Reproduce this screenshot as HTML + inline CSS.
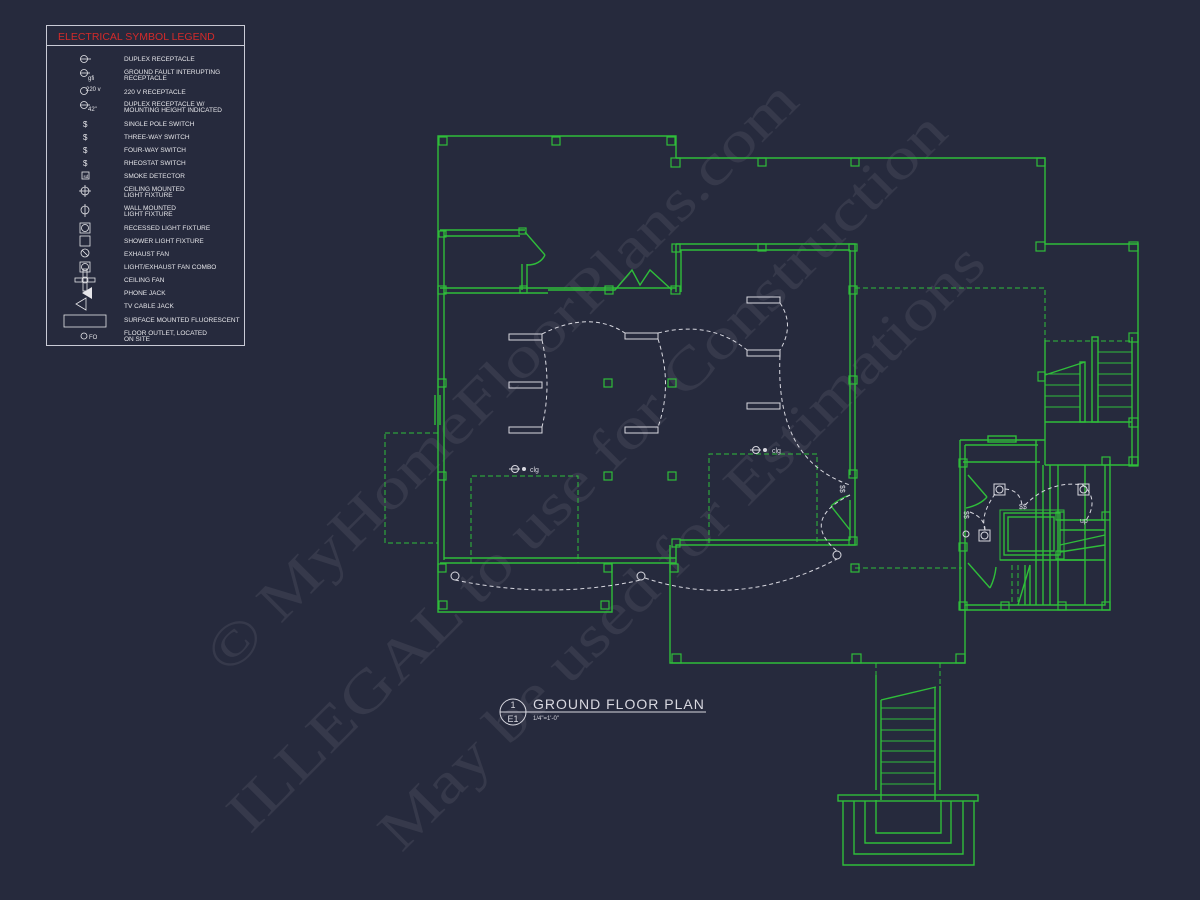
<!DOCTYPE html>
<html><head><meta charset="utf-8"><style>
html,body{margin:0;padding:0;background:#262a3d;}
svg{display:block}
</style></head><body>
<svg width="1200" height="900" viewBox="0 0 1200 900" xmlns="http://www.w3.org/2000/svg">
<rect width="1200" height="900" fill="#262a3d"/>

<!-- watermark -->
<g fill="#ffffff" fill-opacity="0.075" font-family="Liberation Serif, serif" text-anchor="middle">
<text x="0" y="0" font-size="58" transform="translate(515,390) rotate(-45)" textLength="810" lengthAdjust="spacingAndGlyphs">© MyHomeFloorPlans.com</text>
<text x="0" y="0" font-size="58" transform="translate(600,485) rotate(-45)" textLength="990" lengthAdjust="spacingAndGlyphs">ILLEGAL to use for Construction</text>
<text x="0" y="0" font-size="58" transform="translate(695,560) rotate(-45)" textLength="830" lengthAdjust="spacingAndGlyphs">May be used for Estimations</text>
</g>

<!-- legend -->
<g font-family="Liberation Sans, sans-serif">
<rect x="46.5" y="25.5" width="198" height="320" fill="none" stroke="#c9cbd6" stroke-width="1"/>
<line x1="47" y1="45.5" x2="244" y2="45.5" stroke="#c9cbd6"/>
<text x="58" y="40" font-size="10.5" fill="#d42a2a">ELECTRICAL SYMBOL LEGEND</text>
<g font-size="6.5" fill="#e6e6ea">
<text x="124" y="61">DUPLEX RECEPTACLE</text>
<text x="124" y="74">GROUND FAULT INTERUPTING</text><text x="124" y="80">RECEPTACLE</text>
<text x="124" y="94">220 V RECEPTACLE</text>
<text x="124" y="106">DUPLEX RECEPTACLE W/</text><text x="124" y="112">MOUNTING HEIGHT INDICATED</text>
<text x="124" y="126">SINGLE POLE SWITCH</text>
<text x="124" y="139">THREE-WAY SWITCH</text>
<text x="124" y="152">FOUR-WAY SWITCH</text>
<text x="124" y="165">RHEOSTAT SWITCH</text>
<text x="124" y="178">SMOKE DETECTOR</text>
<text x="124" y="191">CEILING MOUNTED</text><text x="124" y="197">LIGHT FIXTURE</text>
<text x="124" y="210">WALL MOUNTED</text><text x="124" y="216">LIGHT FIXTURE</text>
<text x="124" y="230">RECESSED LIGHT FIXTURE</text>
<text x="124" y="243">SHOWER LIGHT FIXTURE</text>
<text x="124" y="256">EXHAUST FAN</text>
<text x="124" y="269">LIGHT/EXHAUST FAN COMBO</text>
<text x="124" y="282">CEILING FAN</text>
<text x="124" y="295">PHONE JACK</text>
<text x="124" y="308">TV CABLE JACK</text>
<text x="124" y="322">SURFACE MOUNTED FLUORESCENT</text>
<text x="124" y="335">FLOOR OUTLET, LOCATED</text><text x="124" y="341">ON SITE</text>
</g>
<g stroke="#e6e6ea" fill="none" stroke-width="0.8">
<circle cx="84" cy="59" r="3.5"/><line x1="80" y1="59" x2="91" y2="59"/>
<circle cx="84" cy="73" r="3.5"/><line x1="80" y1="73" x2="90" y2="73"/>
<circle cx="84" cy="91" r="3.5"/>
<circle cx="84" cy="105" r="3.5"/><line x1="80" y1="105" x2="90" y2="105"/>
<rect x="82" y="172" width="7" height="7"/>
<circle cx="85" cy="191" r="4"/><line x1="85" y1="185" x2="85" y2="197"/><line x1="79" y1="191" x2="91" y2="191"/>
<circle cx="85" cy="210" r="4"/><line x1="85" y1="204" x2="85" y2="217"/>
<rect x="80" y="223" width="10" height="10"/><circle cx="85" cy="228" r="3.5"/>
<rect x="80" y="236" width="10" height="10"/>
<circle cx="85" cy="253" r="4"/><line x1="82" y1="250" x2="88" y2="256"/>
<rect x="80" y="262" width="10" height="10"/><circle cx="85" cy="267" r="3.5"/>
<rect x="83" y="269" width="4" height="22"/><rect x="75" y="278" width="20" height="4"/><circle cx="85" cy="280" r="3"/>
<polygon points="86,298 86,310 76,304"/>
<rect x="64" y="315" width="42" height="12"/>
<circle cx="84" cy="336" r="3"/>
</g>
<polygon points="92,287 92,299 82,293" fill="#e6e6ea"/>
<g font-size="6" fill="#e6e6ea">
<text x="88" y="80">gfi</text><text x="86" y="91">220 v</text><text x="88" y="111">42"</text>
<text x="83" y="127" font-size="8">$</text><text x="83" y="140" font-size="8">$</text><text x="83" y="153" font-size="8">$</text><text x="83" y="166" font-size="8">$</text>
<text x="83.5" y="178" font-size="4.5">sd</text><text x="89" y="339">FO</text>
</g>
</g>

<!-- plan -->
<g stroke="#2fbd3a" fill="none" stroke-width="1.4">
<!-- top porch -->
<polyline points="676,158 676,136 438,136 438,612 612,612 612,563"/>
<polyline points="676,158 1045,158 1045,244 1138,244 1138,465 1045,465"/>
<!-- interior walls -->
<line x1="444" y1="230" x2="444" y2="560"/>
<polyline points="440,230 525,230"/><polyline points="444,236 520,236"/>
<line x1="440" y1="288" x2="676" y2="288"/><line x1="444" y1="293" x2="548" y2="293"/>
<line x1="522" y1="264" x2="522" y2="290"/><line x1="527" y1="264" x2="527" y2="290"/>
<line x1="525" y1="232" x2="545" y2="255"/><path d="M545,255 Q540,265 527,265"/>
<polyline points="548,290 615,290 632,270 640,285 650,270 672,290"/>
<polyline points="676,244 855,244 855,545 676,545 676,563 440,563"/>
<line x1="680" y1="250" x2="850" y2="250"/><line x1="850" y1="250" x2="850" y2="475"/>
<line x1="850" y1="500" x2="850" y2="540"/>
<line x1="676" y1="244" x2="676" y2="292"/><line x1="681" y1="250" x2="681" y2="292"/>
<line x1="680" y1="540" x2="850" y2="540"/>
<line x1="831" y1="506" x2="850" y2="530"/><path d="M831,506 Q840,498 850,495"/>
<line x1="444" y1="558" x2="676" y2="558"/>
<!-- lower porch -->
<polyline points="670,545 670,663 965,663 965,605"/>
<line x1="435" y1="395" x2="435" y2="425"/><line x1="440" y1="395" x2="440" y2="425"/>
<!-- right rooms -->
<polyline points="960,440 960,610 1110,610 1110,460"/>
<polyline points="965,445 965,605 1105,605 1105,465"/>
<polyline points="960,440 1045,440"/><line x1="965" y1="445" x2="1038" y2="445"/>
<rect x="988" y="436" width="28" height="6"/>
<line x1="963" y1="462" x2="1040" y2="462"/>
<line x1="1036" y1="440" x2="1036" y2="605"/><line x1="1043" y1="465" x2="1043" y2="605"/>
<line x1="1050" y1="465" x2="1050" y2="605"/><line x1="1058" y1="465" x2="1058" y2="605"/>
<line x1="1085" y1="465" x2="1085" y2="605"/>
<line x1="968" y1="475" x2="987" y2="497"/><path d="M987,497 Q980,505 966,508"/>
<line x1="968" y1="563" x2="990" y2="588"/><path d="M990,588 Q995,578 996,567"/>
<rect x="1004" y="513" width="56" height="42"/><rect x="1008" y="517" width="46" height="34"/>
<rect x="1000" y="510" width="64" height="50" stroke-width="1"/>
<line x1="1060" y1="520" x2="1105" y2="520"/><line x1="1060" y1="530" x2="1105" y2="530"/>
<line x1="1060" y1="545" x2="1105" y2="535"/><line x1="1060" y1="552" x2="1105" y2="545"/>
<line x1="1060" y1="560" x2="1105" y2="560"/>
<line x1="1025" y1="565" x2="1025" y2="605"/><line x1="1030" y1="565" x2="1030" y2="605"/>
<line x1="1018" y1="605" x2="1030" y2="565"/>
<line x1="1000" y1="560" x2="1085" y2="560"/>
<!-- right stair -->
<line x1="1045" y1="340" x2="1045" y2="465"/><line x1="1132" y1="337" x2="1132" y2="465"/>
<rect x="1092" y="337" width="6" height="85"/><rect x="1080" y="362" width="5" height="60"/>
<line x1="1045" y1="375" x2="1085" y2="362"/>
<line x1="1045" y1="422" x2="1132" y2="422"/>
<g stroke-width="1">
<line x1="1098" y1="352" x2="1132" y2="352"/><line x1="1098" y1="363" x2="1132" y2="363"/><line x1="1098" y1="374" x2="1132" y2="374"/>
<line x1="1098" y1="385" x2="1132" y2="385"/><line x1="1098" y1="396" x2="1132" y2="396"/><line x1="1098" y1="407" x2="1132" y2="407"/>
<line x1="1045" y1="385" x2="1080" y2="385"/><line x1="1045" y1="396" x2="1080" y2="396"/><line x1="1045" y1="407" x2="1080" y2="407"/><line x1="1045" y1="374" x2="1080" y2="374"/>
</g>
<!-- front stair -->
<line x1="876" y1="675" x2="876" y2="790"/><line x1="940" y1="686" x2="940" y2="790"/>
<line x1="881" y1="700" x2="936" y2="687"/>
<line x1="881" y1="700" x2="881" y2="800"/><line x1="935" y1="687" x2="935" y2="800"/>
<g stroke-width="1">
<line x1="881" y1="708" x2="935" y2="708"/><line x1="881" y1="719" x2="935" y2="719"/><line x1="881" y1="730" x2="935" y2="730"/>
<line x1="881" y1="741" x2="935" y2="741"/><line x1="881" y1="751" x2="935" y2="751"/><line x1="881" y1="762" x2="935" y2="762"/>
<line x1="881" y1="773" x2="935" y2="773"/><line x1="881" y1="784" x2="935" y2="784"/>
</g>
<rect x="838" y="795" width="140" height="6"/>
<polyline points="876,800 876,833 941,833 941,800"/>
<polyline points="865,801 865,843 951,843 951,801"/>
<polyline points="854,801 854,854 963,854 963,801"/>
<polyline points="843,801 843,865 974,865 974,801"/>
</g>
<!-- posts -->
<g stroke="#2fbd3a" fill="none" stroke-width="1.2">
<rect x="439" y="137" width="8" height="8"/><rect x="552" y="137" width="8" height="8"/><rect x="667" y="137" width="8" height="8"/>
<rect x="671" y="158" width="9" height="9"/><rect x="758" y="158" width="8" height="8"/><rect x="851" y="158" width="8" height="8"/><rect x="1037" y="158" width="8" height="8"/>
<rect x="1036" y="242" width="9" height="9"/><rect x="1129" y="242" width="9" height="9"/>
<rect x="1129" y="333" width="9" height="9"/><rect x="1038" y="372" width="7" height="9"/><rect x="1129" y="418" width="9" height="9"/><rect x="1129" y="457" width="9" height="9"/>
<rect x="439" y="231" width="7" height="6"/><rect x="519" y="228" width="7" height="6"/>
<rect x="438" y="286" width="8" height="8"/><rect x="520" y="286" width="7" height="7"/><rect x="605" y="286" width="8" height="8"/><rect x="671" y="286" width="9" height="8"/>
<rect x="672" y="244" width="8" height="8"/><rect x="758" y="244" width="8" height="7"/><rect x="849" y="244" width="8" height="7"/>
<rect x="849" y="286" width="8" height="8"/><rect x="849" y="376" width="8" height="8"/><rect x="849" y="470" width="8" height="8"/><rect x="849" y="537" width="8" height="8"/>
<rect x="438" y="379" width="8" height="8"/><rect x="438" y="472" width="8" height="8"/>
<rect x="604" y="379" width="8" height="8"/><rect x="668" y="379" width="8" height="8"/><rect x="604" y="472" width="8" height="8"/><rect x="668" y="472" width="8" height="8"/>
<rect x="672" y="539" width="8" height="8"/><rect x="438" y="564" width="8" height="8"/><rect x="604" y="564" width="8" height="8"/><rect x="670" y="564" width="8" height="8"/>
<rect x="439" y="601" width="8" height="8"/><rect x="601" y="601" width="8" height="8"/>
<rect x="851" y="564" width="8" height="8"/>
<rect x="672" y="654" width="9" height="9"/><rect x="852" y="654" width="9" height="9"/><rect x="956" y="654" width="9" height="9"/>
<rect x="959" y="459" width="8" height="8"/><rect x="959" y="543" width="8" height="8"/><rect x="959" y="602" width="8" height="8"/>
<rect x="1001" y="602" width="8" height="8"/><rect x="1058" y="602" width="8" height="8"/><rect x="1102" y="602" width="8" height="8"/>
<rect x="1056" y="512" width="8" height="8"/><rect x="1056" y="551" width="8" height="8"/><rect x="1102" y="512" width="8" height="8"/><rect x="1102" y="457" width="8" height="8"/>
</g>
<!-- dashed green -->
<g stroke="#2fbd3a" fill="none" stroke-width="1" stroke-dasharray="5,3">
<rect x="385" y="433" width="53" height="110"/>
<polyline points="471,563 471,476 578,476 578,563"/>
<polyline points="709,543 709,454 817,454 817,543"/>
<polyline points="855,288 1045,288 1045,340"/>
<line x1="1045" y1="341" x2="1130" y2="341"/>
<polyline points="855,568 962,568"/>
<line x1="876" y1="663" x2="876" y2="700"/><line x1="940" y1="663" x2="940" y2="688"/>
<line x1="1012" y1="565" x2="1012" y2="605"/><line x1="1018" y1="565" x2="1018" y2="605"/>
</g>
<!-- light fixtures -->
<g stroke="#d8d8e0" fill="none" stroke-width="1">
<rect x="509" y="334" width="33" height="6"/><rect x="509" y="382" width="33" height="6"/><rect x="509" y="427" width="33" height="6"/>
<rect x="625" y="333" width="33" height="6"/><rect x="625" y="427" width="33" height="6"/>
<rect x="747" y="297" width="33" height="6"/><rect x="747" y="350" width="33" height="6"/><rect x="747" y="403" width="33" height="6"/>
<circle cx="455" cy="576" r="4"/><circle cx="641" cy="576" r="4"/><circle cx="837" cy="555" r="4"/>
<rect x="994" y="484" width="11" height="11"/><circle cx="999.5" cy="489.5" r="3.5"/>
<rect x="1078" y="484" width="11" height="11"/><circle cx="1083.5" cy="489.5" r="3.5"/>
<rect x="979" y="530" width="11" height="11"/><circle cx="984.5" cy="535.5" r="3.5"/>
<circle cx="515" cy="469" r="3.5"/><line x1="509" y1="469" x2="520" y2="469"/>
<circle cx="756" cy="450" r="3.5"/><line x1="750" y1="450" x2="761" y2="450"/>
<circle cx="966" cy="534" r="3"/>
</g>
<g fill="#d8d8e0" font-family="Liberation Sans, sans-serif" font-size="7">
<circle cx="524" cy="469" r="2"/><text x="530" y="472">clg</text>
<circle cx="765" cy="450" r="2"/><text x="772" y="453">clg</text>
<text x="1080" y="523">up</text>
<text x="1019" y="509">$$</text>
<text transform="translate(840,485) rotate(90)">$$</text>
<text transform="translate(964,511) rotate(90)">$$</text>
</g>
<!-- dashed wiring -->
<g stroke="#d8d8e0" fill="none" stroke-width="1" stroke-dasharray="4,3">
<path d="M542,334 Q590,310 625,333"/>
<path d="M658,333 Q710,320 747,350"/>
<path d="M542,340 Q552,385 542,427"/>
<path d="M658,339 Q673,385 658,427"/>
<path d="M780,303 Q795,325 780,350"/>
<path d="M780,356 Q775,460 850,485"/>
<path d="M455,580 Q550,600 641,580"/>
<path d="M645,578 Q740,610 837,559"/>
<path d="M850,495 Q800,520 837,551"/>
<path d="M1005,489 Q1020,490 1022,505"/>
<path d="M995,494 Q980,515 985,530"/>
<path d="M1025,505 Q1050,480 1083,485 Q1100,500 1085,522"/>
<path d="M970,512 Q985,518 985,530"/>
</g>
<!-- title -->
<g font-family="Liberation Sans, sans-serif" fill="#d8d8e0">
<circle cx="513" cy="712" r="13" fill="none" stroke="#d8d8e0" stroke-width="1"/>
<line x1="500" y1="712" x2="706" y2="712" stroke="#d8d8e0" stroke-width="1"/>
<text x="513" y="708" font-size="9" text-anchor="middle">1</text>
<text x="513" y="722" font-size="9" text-anchor="middle">E1</text>
<text x="533" y="709" font-size="14" letter-spacing="1">GROUND FLOOR PLAN</text>
<text x="533" y="720" font-size="6">1/4"=1'-0"</text>
</g>
</svg>
</body></html>
